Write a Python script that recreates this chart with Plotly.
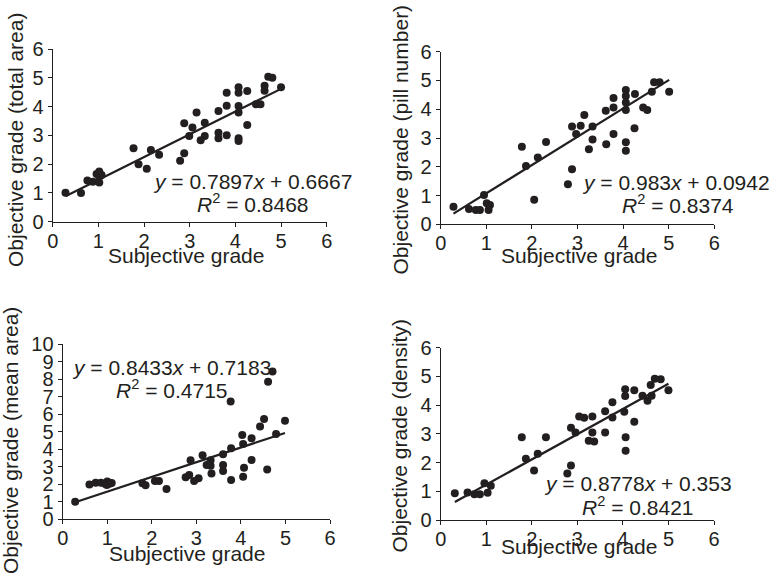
import plotly.graph_objects as go

W, H = 779, 575

# ---------------- data ----------------
# Panel A: total area
a_x = [0.28, 0.62, 0.76, 0.88, 0.96, 1.02, 1.02, 1.02, 1.07, 1.77, 1.88, 2.06, 2.15, 2.33,
       2.79, 2.88, 2.88, 2.99, 3.06, 3.15, 3.24, 3.33, 3.33, 3.63, 3.63, 3.63, 3.81, 3.81,
       3.81, 4.07, 4.07, 4.07, 4.07, 4.07, 4.07, 4.26, 4.26, 4.45, 4.55, 4.64, 4.64, 4.72,
       4.81, 5.0]
a_y = [1.01, 1.0, 1.43, 1.39, 1.66, 1.74, 1.56, 1.36, 1.62, 2.55, 2.0, 1.84, 2.49, 2.33,
       2.12, 2.38, 3.42, 2.98, 3.27, 3.79, 2.83, 3.44, 2.98, 3.85, 3.09, 2.9, 4.48, 4.03,
       3.0, 4.67, 4.48, 4.02, 3.79, 2.9, 2.8, 4.54, 3.36, 4.08, 4.08, 4.72, 4.55, 5.04,
       5.0, 4.67]
a_slope, a_icpt, a_r2 = 0.7897, 0.6667, 0.8468

# Panel B: pill number
b_x = [0.28, 0.62, 0.77, 0.86, 0.95, 1.01, 1.05, 1.08, 1.78, 1.87, 2.05, 2.13, 2.31, 2.79,
       2.88, 2.88, 2.97, 3.07, 3.15, 3.25, 3.33, 3.33, 3.62, 3.63, 3.79, 3.79, 3.79, 4.06,
       4.06, 4.06, 4.06, 4.06, 4.06, 4.26, 4.25, 4.44, 4.53, 4.63, 4.68, 4.8, 5.01]
b_y = [0.61, 0.53, 0.5, 0.5, 1.02, 0.73, 0.5, 0.67, 2.7, 2.03, 0.85, 2.32, 2.86, 1.39,
       1.91, 3.4, 3.14, 3.43, 3.8, 2.61, 3.4, 2.95, 3.95, 2.78, 4.39, 4.06, 3.14, 4.67,
       4.46, 4.23, 3.97, 2.85, 2.56, 4.53, 3.34, 4.06, 3.97, 4.61, 4.94, 4.94, 4.61]
b_slope, b_icpt, b_r2 = 0.983, 0.0942, 0.8374

# Panel C: mean area
c_x = [0.28, 0.6, 0.74, 0.86, 0.95, 1.0, 1.05, 1.1, 0.99, 1.79, 1.86, 2.07, 2.16, 2.33,
       2.76, 2.84, 2.87, 2.95, 3.05, 3.14, 3.23, 3.32, 3.32, 3.34, 3.6, 3.6, 3.6, 3.77,
       3.78, 3.78, 4.03, 4.05, 4.07, 4.05, 4.24, 4.24, 4.43, 4.52, 4.59, 4.61, 4.71, 4.79,
       4.99]
c_y = [0.99, 1.98, 2.08, 2.08, 2.02, 2.14, 2.02, 2.06, 1.95, 2.04, 1.93, 2.18, 2.18, 1.72,
       2.39, 2.52, 3.36, 2.18, 2.33, 3.65, 3.09, 3.36, 3.05, 2.61, 3.7, 3.09, 2.75, 6.72,
       4.05, 2.23, 4.81, 4.29, 2.94, 2.42, 4.62, 3.38, 5.29, 5.73, 2.84, 7.86, 8.44, 4.87,
       5.63]
c_slope, c_icpt, c_r2 = 0.8433, 0.7183, 0.4715

# Panel D: density
d_x = [0.31, 0.59, 0.74, 0.86, 0.96, 1.03, 1.1, 1.78, 1.87, 2.05, 2.13, 2.31, 2.78, 2.86,
       2.86, 2.96, 3.04, 3.15, 3.25, 3.33, 3.33, 3.37, 3.61, 3.61, 3.77, 3.77, 4.05, 4.05,
       4.03, 4.06, 4.06, 4.25, 4.25, 4.43, 4.54, 4.61, 4.63, 4.7, 4.83, 5.0]
d_y = [0.93, 0.96, 0.9, 0.9, 1.28, 0.95, 1.19, 2.88, 2.13, 1.72, 2.31, 2.88, 1.62, 1.9,
       3.21, 3.05, 3.6, 3.56, 2.76, 3.6, 3.05, 2.73, 3.79, 3.05, 4.1, 3.57, 4.55, 4.32,
       3.77, 2.88, 2.41, 4.52, 3.42, 4.33, 4.15, 4.7, 4.33, 4.92, 4.9, 4.52]
d_slope, d_icpt, d_r2 = 0.8778, 0.353, 0.8421

y_titles = ["Objective grade (total area)", "Objective grade (pill number)",
            "Objective grade (mean area)", "Objective grade (density)"]
x_title = "Subjective grade"
y_max = [6, 6, 10, 6]
x_max = 6

# ---------------- layout helpers ----------------
INK = "#231f20"
FONT = "Liberation Sans, Arial, Helvetica, sans-serif"


def px(x):
    return x / W


def py(y):
    return 1 - y / H


# pixel boxes of each plot area: (left, right, top, bottom)
boxes = [(52.7, 326.7, 49.0, 221.7),
         (440.7, 714.3, 51.7, 224.3),
         (62.7, 330.0, 344.3, 519.0),
         (440.7, 714.0, 347.7, 520.0)]

panels = [(a_x, a_y, a_slope, a_icpt, a_r2),
          (b_x, b_y, b_slope, b_icpt, b_r2),
          (c_x, c_y, c_slope, c_icpt, c_r2),
          (d_x, d_y, d_slope, d_icpt, d_r2)]

fig = go.Figure()
layout = dict(width=W, height=H, margin=dict(l=0, r=0, t=0, b=0, autoexpand=False),
              paper_bgcolor="white", plot_bgcolor="white", showlegend=False,
              font=dict(family=FONT, color=INK))

for i, (xs, ys, m, b, r2) in enumerate(panels):
    sfx = "" if i == 0 else str(i + 1)
    xa, ya = "x" + sfx, "y" + sfx
    fig.add_trace(go.Scatter(x=xs, y=ys, mode="markers", xaxis=xa, yaxis=ya,
                             marker=dict(size=8, color=INK), cliponaxis=False))
    x0, x1 = min(xs), max(xs)
    fig.add_trace(go.Scatter(x=[x0, x1], y=[m * x0 + b, m * x1 + b], mode="lines",
                             xaxis=xa, yaxis=ya, line=dict(color=INK, width=2.2)))
    l, r, t, bt = boxes[i]
    common = dict(showline=True, linecolor=INK, linewidth=1.3, ticks="outside",
                  ticklen=4, tickwidth=1.2, tickcolor=INK, showgrid=False,
                  zeroline=False, tickmode="linear", tick0=0, dtick=1,
                  automargin=False,
                  tickfont=dict(size=20, family=FONT, color=INK))
    layout["xaxis" + sfx] = dict(domain=[px(l), px(r)], range=[0, x_max],
                                 anchor=ya, ticklabelstandoff=-3, **common)
    layout["yaxis" + sfx] = dict(domain=[py(bt), py(t)], range=[0, y_max[i]],
                                 anchor=xa, **common)

fig.update_layout(**layout)

# ---------------- text ----------------
ann = []
# x titles: (center x, middle y)
xt_pos = [(186, 256), (578.5, 256), (186.7, 553), (578.5, 546)]
for (cx, cy) in xt_pos:
    ann.append(dict(text=x_title, x=px(cx), y=py(cy), xref="paper", yref="paper",
                    xanchor="center", yanchor="middle", showarrow=False,
                    font=dict(size=21, family=FONT, color=INK)))
# y titles
yt_pos = [(15, 140), (400, 139.5), (10, 441), (399, 436.5)]
for txt, (cx, cy) in zip(y_titles, yt_pos):
    ann.append(dict(text=txt, x=px(cx), y=py(cy), xref="paper", yref="paper",
                    xanchor="center", yanchor="middle", textangle=-90, showarrow=False,
                    font=dict(size=21, family=FONT, color=INK)))
# equations
eq_pos = [((252, 181), (253, 203)), ((676, 182), (677.5, 204)),
          ((171, 367), (171.7, 389)), ((637.5, 483), (637.5, 506))]
for (xs, ys, m, b, r2), (p1, p2) in zip(panels, eq_pos):
    eq = f"<i>y</i> = {m:g}<i>x</i> + {b:g}"
    rr = f"<i>R</i><sup>2</sup> = {r2:g}"
    ann.append(dict(text=eq, x=px(p1[0]), y=py(p1[1]), xref="paper", yref="paper",
                    xanchor="center", yanchor="middle", showarrow=False,
                    font=dict(size=21, family=FONT, color=INK)))
    ann.append(dict(text=rr, x=px(p2[0]), y=py(p2[1]), xref="paper", yref="paper",
                    xanchor="center", yanchor="middle", showarrow=False,
                    font=dict(size=21, family=FONT, color=INK)))

fig.update_layout(annotations=ann)
fig.write_html("out.html",
               config={"displayModeBar": False},
               post_script="document.body.style.margin='0';"
                           "document.body.style.overflow='hidden';")
